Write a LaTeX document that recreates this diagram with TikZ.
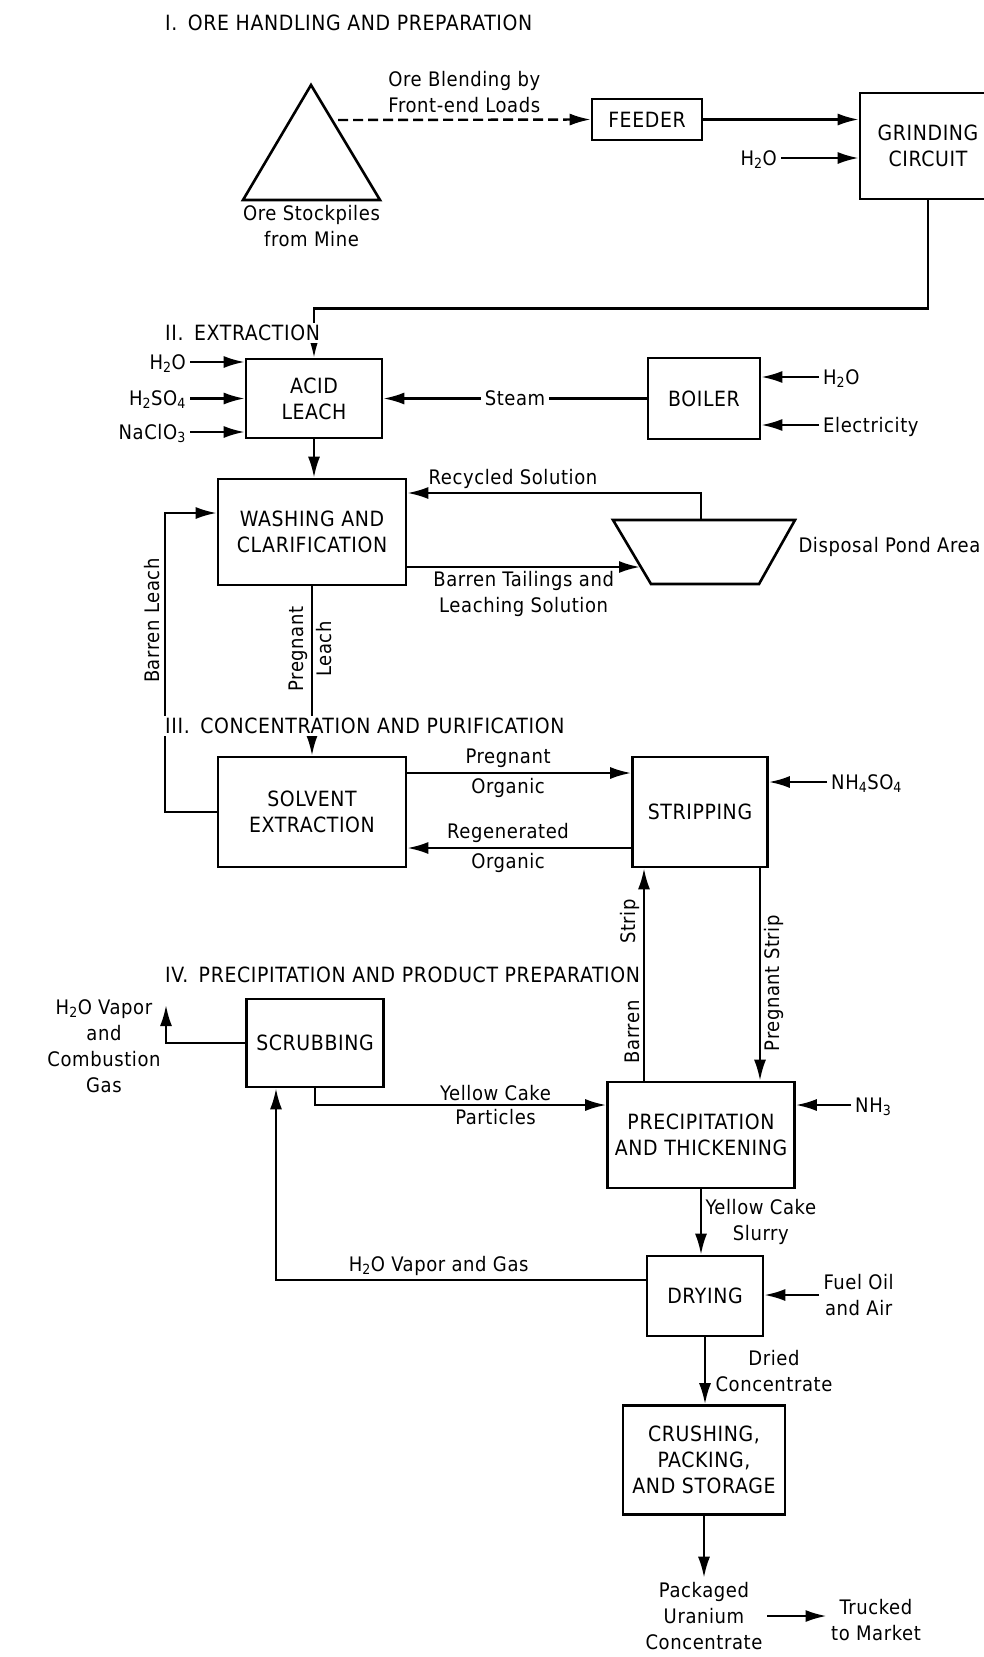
\documentclass[tikz,border=0pt]{standalone}
\usepackage{fontspec}
\setmainfont{DejaVu Sans Condensed}[LetterSpace=3]
\usetikzlibrary{arrows.meta,calc,positioning}

\begin{document}
\begin{tikzpicture}[x=1pt,y=-1pt,line width=2.4pt,
    font=\fontsize{20}{26}\selectfont,
    box/.style={draw,line width=2.6pt,align=center,inner sep=2pt,font=\fontsize{21}{26}\selectfont},
    arr/.style={-{Latex[length=21pt,width=12pt]}},
    lbl/.style={inner sep=3pt,text height=16pt,text depth=2pt},
    sect/.style={anchor=west,fill=white,inner sep=2pt,font=\fontsize{21}{26}\selectfont}]
  \useasboundingbox (0,0) rectangle (983,1657);

  % I. ore handling
  \coordinate (apex) at (311,85);
  \coordinate (pileL) at (243,200);
  \coordinate (pileR) at (380,200);
  \draw[line width=2.6pt,line join=miter] (pileL) -- (apex) -- (pileR) -- cycle;
  \node[below=1pt,align=center] (pile) at ($(pileL)!.5!(pileR)$) {Ore Stockpiles\\from Mine};
  \coordinate (pileout) at (338,120);
  \node[box,minimum width=110,minimum height=41] (feeder) at (647,119.5) {FEEDER};
  \node[box,minimum width=136,minimum height=106] (grind) at (928,146) {GRINDING\\CIRCUIT};
  \node[lbl,anchor=east] (gwater) at (781,158) {H\textsubscript{2}O};

  % II. extraction
  \node[box,minimum width=136,minimum height=79] (acid) at (314,398.5) {ACID\\LEACH};
  \node[lbl,anchor=east] (awater) at (190,362) {H\textsubscript{2}O};
  \node[lbl,anchor=east] (asulf) at (190,398.5) {H\textsubscript{2}SO\textsubscript{4}};
  \node[lbl,anchor=east] (achlor) at (190,432) {NaClO\textsubscript{3}};
  \node[box,minimum width=112,minimum height=81] (boiler) at (704,398.5) {BOILER};
  \node[lbl,anchor=west] (bwater) at (819,377) {H\textsubscript{2}O};
  \node[lbl,anchor=west] (belec) at (819,425) {Electricity};
  \node[box,minimum width=188,minimum height=106] (wash) at (312,532) {WASHING AND\\CLARIFICATION};
  \coordinate (pondTL) at (613,520);
  \coordinate (pondTR) at (795,520);
  \coordinate (pondBR) at (759,584);
  \coordinate (pondBL) at (651,584);
  \draw[line width=2.6pt] (pondTL) -- (pondTR) -- (pondBR) -- (pondBL) -- cycle;
  \node[anchor=west] (pondlbl) at (794,547) {Disposal Pond Area};
  \coordinate (pondtop) at (701,520);
  \coordinate (pondin) at (640,567);

  % III. concentration
  \node[box,minimum width=188,minimum height=110] (solvent) at (312,812) {SOLVENT\\EXTRACTION};
  \node[box,minimum width=135,minimum height=110] (strip) at (700,812) {STRIPPING};
  \node[lbl,anchor=west] (ammsulf) at (827,782) {NH\textsubscript{4}SO\textsubscript{4}};

  % IV. precipitation
  \node[box,minimum width=137,minimum height=88] (scrub) at (315,1043) {SCRUBBING};
  \coordinate (gasout) at (166,1005);
  \node[align=center] (gaslbl) at (104,1046) {H\textsubscript{2}O Vapor\\and\\Combustion\\Gas};
  \node[box,minimum width=187,minimum height=106] (precip) at (701,1135) {PRECIPITATION\\AND THICKENING};
  \node[lbl,anchor=west] (ammonia) at (851,1105) {NH\textsubscript{3}};
  \node[box,minimum width=116,minimum height=80] (dry) at (705,1296) {DRYING};
  \node[align=center,anchor=west] (fuel) at (819,1295) {Fuel Oil\\and Air};
  \node[box,minimum width=162,minimum height=109] (crush) at (704,1460) {CRUSHING,\\PACKING,\\AND STORAGE};
  \node[align=center] (product) at (704,1616) {Packaged\\Uranium\\Concentrate};
  \node[align=center] (market) at (876,1620) {Trucked\\to Market};

  % flows
  \draw[arr,dash pattern=on 10pt off 5pt] (pileout) -- node[above=2pt,align=center] {Ore Blending by\\Front-end Loads} (feeder.west);
  \draw[arr] (feeder.east) -- (feeder.east -| grind.west);
  \draw[arr] (gwater) -- (gwater -| grind.west);
  \draw[arr] (grind.south) -- ++(0,108) -| (acid.north);
  \draw[arr] (awater) -- (awater -| acid.west);
  \draw[arr] (asulf) -- (asulf -| acid.west);
  \draw[arr] (achlor) -- (achlor -| acid.west);
  \draw[arr] (boiler.west) -- node[fill=white,inner sep=4pt] {Steam} (acid.east);
  \draw[arr] (bwater) -- (bwater -| boiler.east);
  \draw[arr] (belec) -- (belec -| boiler.east);
  \draw[arr] (acid.south) -- (acid.south |- wash.north);
  \draw[arr] (pondtop) |- node[pos=.82,above] {Recycled Solution} ([yshift=39pt]wash.east);
  \draw[arr] ([yshift=-35pt]wash.east) -- node[below,align=center] {Barren Tailings and\\Leaching Solution} (pondin);
  \draw[arr] (solvent.west) -- ++(-52,0) |- node[pos=.32,anchor=south,rotate=90] {Barren Leach} ([yshift=19pt]wash.west);
  \draw[arr] (wash.south) -- node[pos=.37,anchor=south,rotate=90] {Pregnant} node[pos=.37,anchor=north,rotate=90] {Leach} (wash.south |- solvent.north);
  \draw[arr] ([yshift=39pt]solvent.east) -- node[pos=.45,above=1pt] {Pregnant} node[pos=.45,below=1pt] {Organic} ([yshift=39pt]strip.west);
  \draw[arr] ([yshift=-36pt]strip.west) -- node[pos=.55,above=1pt] {Regenerated} node[pos=.55,below=1pt] {Organic} ([yshift=-36pt]solvent.east);
  \draw[arr] (ammsulf) -- (ammsulf -| strip.east);
  \draw[arr] ([xshift=-57pt]precip.north) -- node[pos=.23,anchor=south,rotate=90] {Barren} node[pos=.75,anchor=south,rotate=90] {Strip} ([xshift=-57pt]precip.north |- strip.south);
  \draw[arr] ([xshift=60pt]strip.south) -- node[pos=.54,anchor=north,rotate=90] {Pregnant Strip} ([xshift=60pt]strip.south |- precip.north);
  \draw[arr] (scrub.west) -| (gasout);
  \draw[arr] (scrub.south) |- node[pos=.81,above] {Yellow Cake} node[pos=.81,below] {Particles} ([yshift=30pt]precip.west);
  \draw[arr] (ammonia) -- (ammonia -| precip.east);
  \draw[arr] (precip.south) -- node[right,align=center] {Yellow Cake\\Slurry} (precip.south |- dry.north);
  \draw[arr] ([yshift=16pt]dry.west) -| node[pos=.28,above] {H\textsubscript{2}O Vapor and Gas} ([xshift=-39pt]scrub.south);
  \draw[arr] (fuel) -- (fuel -| dry.east);
  \draw[arr] (dry.south) -- node[right=6pt,align=center] {Dried\\Concentrate} (dry.south |- crush.north);
  \draw[arr] (crush.south) -- (crush.south |- product.north);
  \draw[arr] (product.east) -- (product.east -| market.west);

  % section titles
  \node[sect] (sec1) at (162,23) {I.\enspace ORE HANDLING AND PREPARATION};
  \node[sect] (sec2) at (162,333) {II.\enspace EXTRACTION};
  \node[sect] (sec3) at (162,726) {III.\enspace CONCENTRATION AND PURIFICATION};
  \node[sect] (sec4) at (162,975) {IV.\enspace PRECIPITATION AND PRODUCT PREPARATION};
\end{tikzpicture}
\end{document}
